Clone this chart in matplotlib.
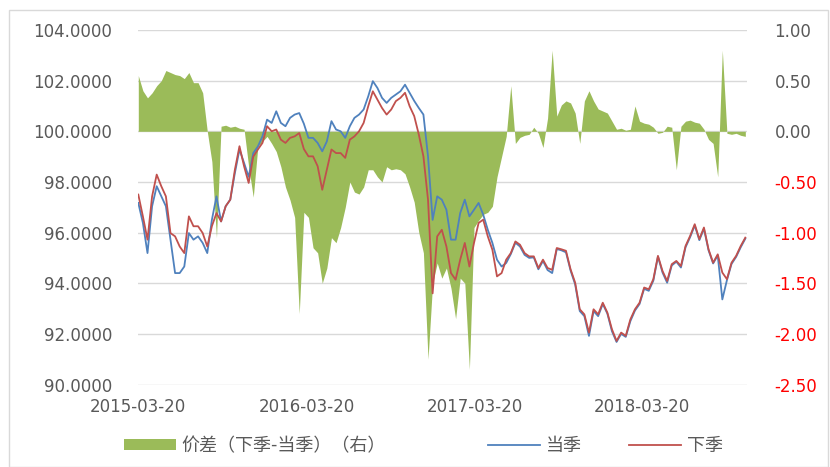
import matplotlib
matplotlib.use('Agg')
import matplotlib.pyplot as plt
import matplotlib.patches as patches
from matplotlib.lines import Line2D
from matplotlib.ticker import FuncFormatter, MultipleLocator
import pandas as pd

# ── Data (sampled every 10 days) ──────────────────────────────────────────────
dates = pd.date_range('2015-03-20', periods=133, freq='10D')

# 当季 (blue)
current_q = [
    97.17, 96.38, 95.19, 97.04, 97.83, 97.43, 97.04, 95.72, 94.40, 94.40,
    94.66, 95.98, 95.72, 95.85, 95.59, 95.19, 96.50, 97.43, 96.44, 97.04,
    97.30, 98.35, 99.28, 98.75, 98.20, 99.14, 99.40, 99.80, 100.46, 100.33,
    100.79, 100.33, 100.20, 100.53, 100.66, 100.72, 100.30, 99.74, 99.74, 99.54,
    99.21, 99.60, 100.40, 100.07, 100.00, 99.74, 100.20, 100.53, 100.66, 100.86,
    101.38, 101.98, 101.71, 101.32, 101.12, 101.32, 101.45, 101.58, 101.84, 101.52,
    101.20, 100.92, 100.66, 99.01, 96.50, 97.43, 97.30, 96.90, 95.72, 95.72,
    96.77, 97.30, 96.64, 96.90, 97.17, 96.71, 96.11, 95.59, 94.93, 94.66,
    94.80, 95.15, 95.60, 95.45, 95.12, 95.00, 95.02, 94.55, 94.88, 94.52,
    94.40, 95.35, 95.30, 95.22, 94.50, 93.95, 92.90, 92.70, 91.92, 92.90,
    92.70, 93.18, 92.80, 92.10, 91.68, 92.00, 91.88, 92.50, 92.92, 93.18,
    93.78, 93.70, 94.10, 95.05, 94.42, 94.02, 94.70, 94.85, 94.62, 95.42,
    95.82, 96.28, 95.70, 96.15, 95.30, 94.78, 95.10, 93.36, 94.12, 94.76,
    95.04, 95.42, 95.76,
]

# 下季 (red)
next_q = [
    97.50, 96.64, 95.72, 97.43, 98.29, 97.83, 97.43, 95.98, 95.85, 95.45,
    95.19, 96.64, 96.25, 96.25, 95.98, 95.45, 96.25, 96.77, 96.44, 97.04,
    97.30, 98.48, 99.41, 98.62, 97.96, 99.00, 99.28, 99.54, 100.20, 100.00,
    100.07, 99.67, 99.54, 99.74, 99.80, 99.93, 99.30, 99.01, 99.01, 98.62,
    97.69, 98.48, 99.28, 99.14, 99.14, 98.95, 99.67, 99.80, 100.00, 100.33,
    100.99, 101.58, 101.25, 100.92, 100.66, 100.86, 101.19, 101.32, 101.52, 100.99,
    100.60, 99.87, 99.01, 97.30, 93.60, 95.85, 96.11, 95.45, 94.40, 94.14,
    94.93, 95.59, 94.66, 95.59, 96.38, 96.51, 95.85, 95.32, 94.27, 94.40,
    94.93, 95.19, 95.65, 95.52, 95.19, 95.06, 95.06, 94.60, 94.93, 94.60,
    94.53, 95.39, 95.34, 95.28, 94.55, 94.02, 92.97, 92.77, 92.05, 92.97,
    92.77, 93.23, 92.84, 92.18, 91.72, 92.05, 91.92, 92.57, 92.97, 93.23,
    93.83, 93.76, 94.16, 95.08, 94.48, 94.09, 94.75, 94.88, 94.68, 95.47,
    95.87, 96.33, 95.74, 96.20, 95.34, 94.81, 95.14, 94.42, 94.16, 94.81,
    95.08, 95.47, 95.80,
]

# 价差（下季-当季）, right axis
spread = [
    0.55, 0.40, 0.33, 0.38, 0.45, 0.50, 0.60, 0.58, 0.56, 0.55,
    0.52, 0.58, 0.48, 0.48, 0.38, 0.00, -0.30, -1.05, 0.05, 0.06,
    0.04, 0.05, 0.03, 0.02, -0.35, -0.65, -0.15, -0.10, -0.05, -0.12,
    -0.20, -0.35, -0.55, -0.68, -0.85, -1.80, -0.80, -0.85, -1.15, -1.20,
    -1.50, -1.35, -1.05, -1.10, -0.95, -0.75, -0.50, -0.60, -0.62, -0.55,
    -0.38, -0.38, -0.45, -0.50, -0.35, -0.38, -0.37, -0.38, -0.42, -0.55,
    -0.70, -1.00, -1.20, -2.25, -1.50, -1.30, -1.45, -1.35, -1.55, -1.85,
    -1.45, -1.50, -2.35, -0.95, -0.88, -0.82, -0.80, -0.74, -0.45, -0.25,
    -0.05, 0.45, -0.12, -0.06, -0.04, -0.03, 0.04, -0.02, -0.16, 0.13,
    0.80, 0.15, 0.26, 0.30, 0.28, 0.18, -0.12, 0.30, 0.40, 0.30,
    0.22, 0.20, 0.18, 0.10, 0.02, 0.03, 0.01, 0.02, 0.25, 0.10,
    0.08, 0.07, 0.04, -0.02, -0.01, 0.05, 0.04, -0.38, 0.05, 0.10,
    0.11, 0.09, 0.08, 0.02, -0.08, -0.12, -0.45, 0.80, -0.02, -0.03,
    -0.02, -0.04, -0.05,
]

legend_labels = ['价差（下季-当季）（右）', '当季', '下季']
x_ticks = ['2015-03-20', '2016-03-20', '2017-03-20', '2018-03-20']

# ── Style ─────────────────────────────────────────────────────────────────────
GREEN = '#9BBB59'
BLUE = '#4F81BD'
RED = '#C0504D'
GRAY = '#595959'
GRID = '#D9D9D9'
FS = 12

plt.rcParams['font.family'] = ['DejaVu Sans']

fig = plt.figure(figsize=(8.3, 4.67), dpi=100)
ax = fig.add_axes([138.3 / 830, 1 - 384.5 / 467, 608.4 / 830, 354.5 / 467])
ax2 = ax.twinx()

# lines on top of the green area
ax.set_zorder(ax2.get_zorder() + 1)
ax.patch.set_visible(False)

# ── Green spread area (right axis) ────────────────────────────────────────────
ax2.fill_between(dates, 0, spread, color=GREEN, linewidth=0)
ax2.set_ylim(-2.5, 1.0)
ax2.yaxis.set_major_locator(MultipleLocator(0.5))
ax2.grid(axis='y', color=GRID, linewidth=1.0)
ax2.set_axisbelow(True)
ax2.yaxis.set_major_formatter(FuncFormatter(lambda v, p: f'{v:.2f}'))
ax2.tick_params(axis='y', length=0, pad=20, labelsize=FS)
for lbl, v in zip(ax2.get_yticklabels(), ax2.get_yticks()):
    lbl.set_color('#FF0000' if v < -1e-9 else GRAY)

# ── Price lines (left axis) ───────────────────────────────────────────────────
ax.plot(dates, current_q, color=BLUE, linewidth=1.3)
ax.plot(dates, next_q, color=RED, linewidth=1.3)
ax.set_ylim(90, 104)
ax.yaxis.set_major_locator(MultipleLocator(2))
ax.yaxis.set_major_formatter(FuncFormatter(lambda v, p: f'{v:.4f}'))
ax.tick_params(axis='y', length=0, pad=19, labelsize=FS, labelcolor=GRAY)

ax.set_xlim(pd.Timestamp('2015-03-20'), pd.Timestamp('2018-11-02'))
ax.set_xticks(pd.to_datetime(x_ticks))
ax.set_xticklabels(x_ticks)
ax.tick_params(axis='x', length=0, pad=10, labelsize=FS, labelcolor=GRAY)

for a in (ax, ax2):
    for s in a.spines.values():
        s.set_visible(False)

# ── Legend (three entries, placed along the bottom) ──────────────────────────
handles = [
    patches.Patch(facecolor=GREEN, edgecolor='none'),
    Line2D([], [], color=BLUE, linewidth=1.3),
    Line2D([], [], color=RED, linewidth=1.3),
]
starts = [124, 488, 629]
for h, lab, x0 in zip(handles, legend_labels, starts):
    lg = fig.legend([h], [lab], loc='center left',
                    bbox_to_anchor=(x0 / 830, 1 - 446 / 467),
                    frameon=False, borderpad=0, borderaxespad=0,
                    handlelength=52 / 18.0, handleheight=0.55,
                    handletextpad=0.3,
                    prop={'family': ['Noto Sans CJK SC', 'DejaVu Sans'],
                          'size': 13})
    for t in lg.get_texts():
        t.set_color(GRAY)

# outer chart frame
fig.add_artist(patches.Rectangle((9 / 830, 0.0), 819 / 830, 1 - 10 / 467,
                                 transform=fig.transFigure, fill=False,
                                 edgecolor=GRID, linewidth=1.0))

fig.savefig('out.png', dpi=100)
